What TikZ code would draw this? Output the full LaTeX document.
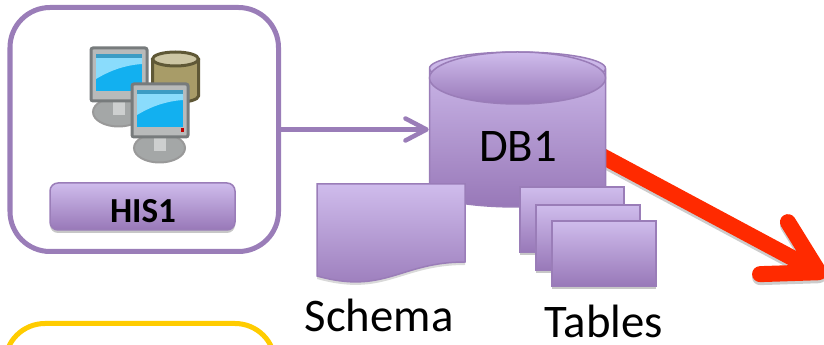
\documentclass[tikz,border=0pt]{standalone}
\usepackage{fontspec}
\setmainfont{Carlito}
\usepackage{xcolor}
\usetikzlibrary{arrows.meta}
\usetikzlibrary{shapes.geometric}
\usetikzlibrary{shadows}
\definecolor{lilacTop}{HTML}{CFBCEC}
\definecolor{lilacBot}{HTML}{9878B8}
\definecolor{lilacEdge}{HTML}{9A7DB8}
\definecolor{frameYellow}{HTML}{FFCC00}
\definecolor{arrowRed}{HTML}{FF2A00}
\definecolor{drumDark}{HTML}{5F5836}
\definecolor{drumBody}{HTML}{A89C68}
\definecolor{drumTop}{HTML}{CDC6A4}
\definecolor{bezelGray}{HTML}{B8BABA}
\definecolor{bezelEdge}{HTML}{777B7C}
\definecolor{baseGray}{HTML}{A4A7A7}
\definecolor{screenLow}{HTML}{12B0F0}
\definecolor{screenHigh}{HTML}{8ADCFC}
\definecolor{screenBar}{HTML}{3C9CC4}
\pgfdeclarelayer{back}
\pgfsetlayers{back,main}
\tikzset{
  softshadow/.style={drop shadow={shadow xshift=0pt,shadow yshift=-0.06cm,fill=black,opacity=0.22}},
  lilacbox/.style={draw=lilacEdge,line width=0.03cm,top color=lilacTop,bottom color=lilacBot},
  framebox/.style={draw,rectangle,rounded corners=0.8cm,line width=0.1cm},
  biglabel/.style={anchor=base,inner sep=0pt,font=\fontsize{26.6pt}{30pt}\selectfont},
}
\begin{document}
\begin{tikzpicture}[]
    \clip (0,0) rectangle (16.48,6.9);

    % draw frames
    \node[framebox,draw=lilacEdge,minimum width=5.37cm,minimum height=4.88cm] (his) at (2.885,4.31) {};
    \node[framebox,draw=frameYellow,minimum width=5.4cm,minimum height=2cm,anchor=north] (yellow) at (2.8,0.48) {};

    % draw drum of the icon
    \draw[line width=0.06cm,draw=drumDark,fill=drumBody] (3.05,5.72) -- (3.05,4.98) arc (180:360:0.46 and 0.13) -- (3.97,5.72);
    \draw[line width=0.06cm,draw=drumDark,fill=drumTop] (3.51,5.72) ellipse (0.46 and 0.14);

    % draw monitors
    \foreach \mx/\my in {1.82/5.94,2.64/5.22} {
      \begin{scope}[shift={(\mx,\my)}]
        \fill[draw=gray!80,line width=0.04cm,fill=baseGray] (0.55,-1.28) ellipse (0.51 and 0.29);
        \fill[bezelGray!70!white] (0.43,-1.0) rectangle (0.67,-1.34);
        \draw[line width=0.06cm,draw=bezelEdge,fill=bezelGray,rounded corners=0.04cm] (0,0) rectangle (1.12,-1.06);
        \fill[screenLow] (0.1,-0.13) rectangle (1.02,-0.86);
        \fill[screenHigh] (0.1,-0.13) -- (1.02,-0.13) -- (1.02,-0.32) .. controls (0.6,-0.35) and (0.3,-0.5) .. (0.1,-0.62) -- cycle;
        \fill[screenBar] (0.1,-0.13) rectangle (1.02,-0.2);
      \end{scope}
    }
    \fill[red!75!black] (3.61,4.33) rectangle (3.68,4.25);

    % draw label of the system
    \node[lilacbox,softshadow,rectangle,rounded corners=0.16cm,minimum width=3.7cm,minimum height=0.94cm] (hisbar) at (2.85,2.77) {};
    \node[anchor=base,inner sep=0pt,font=\fontsize{20pt}{24pt}\bfseries] (hislabel) at (2.86,2.446) {HIS1};

    % draw database
    \node[lilacbox,shape=cylinder,shape border rotate=90,aspect=2.8,minimum width=3.52cm,minimum height=3.1cm,anchor=shape center] (db) at (10.35,4.31) {};
    \draw[lilacbox] (10.35,5.34) ellipse (1.76 and 0.52);
    \node[biglabel] (dblabel) at (10.36,3.66) {DB1};

    % draw connectors
    \draw[draw=lilacEdge,line width=0.09cm,line cap=round,-{Straight Barb[length=0.42cm,width=0.44cm,round]}] (his) -- (his -| db.west);
    \coordinate (redtip) at (16.52,1.38);
    \begin{pgfonlayer}{back}
      \clip (0,0) rectangle (16.48,6.9);
      \draw[draw=black,opacity=0.2,line width=0.32cm,shorten <=-0.5cm,-{Straight Barb[length=1.02cm,width=1.18cm,round]}] ([yshift=-0.06cm]db.-11) -- ([yshift=-0.06cm]redtip);
      \draw[draw=arrowRed,line width=0.32cm,shorten <=-0.5cm,-{Straight Barb[length=1.02cm,width=1.18cm,round]}] (db.-11) -- (redtip);
    \end{pgfonlayer}

    % draw schema
    \draw[lilacbox,drop shadow={shadow xshift=0pt,shadow yshift=-0.06cm,fill=black,opacity=0.15}] (6.34,3.22) -- (9.3,3.22) -- (9.3,1.66) .. controls (8,1.66) and (7.7,1.0) .. (6.34,1.38) -- cycle;
    \node[biglabel] (schemalabel) at (7.58,0.26) {Schema};

    % draw tables
    \foreach \tx/\ty in {10.4/3.16,10.72/2.8,11.04/2.48}
    \draw[lilacbox,softshadow] (\tx,\ty) rectangle ++(2.08,-1.31);
    \node[biglabel] (tableslabel) at (12.08,0.14) {Tables};
\end{tikzpicture}
\end{document}
